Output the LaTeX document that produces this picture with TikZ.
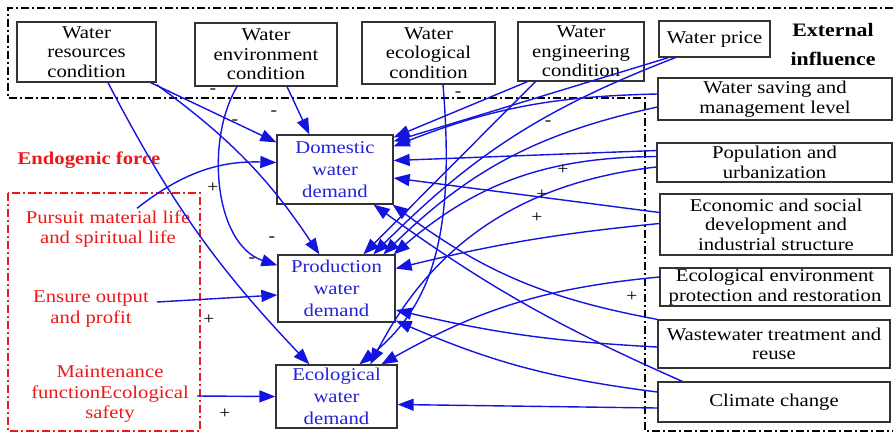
\documentclass[tikz,border=0pt]{standalone}
\usepackage{fontspec}
\setmainfont{Liberation Serif}[FakeStretch=1.15]
\usetikzlibrary{arrows.meta,calc}
\definecolor{eblue}{RGB}{20,20,225}
\definecolor{tblue}{RGB}{35,35,215}
\definecolor{ered}{RGB}{235,25,25}
\begin{document}
\begin{tikzpicture}[x=1pt,y=-1pt,
  box/.style={draw=black!80,fill=white,line width=1.3pt,inner sep=0pt,align=center,font=\fontsize{18}{19.5}\selectfont},
  dbox/.style={box,text=tblue,font=\fontsize{18}{22}\selectfont},
  redtxt/.style={text=ered,align=center,font=\fontsize{18}{20.5}\selectfont,inner sep=0pt},
  sign/.style={font=\fontsize{17}{17}\selectfont,inner sep=0pt},
  arr/.style={draw=eblue,line width=1.4pt,-{Triangle[length=16pt,width=12pt]}},
  dashdot/.style={line width=1.8pt,dash pattern=on 8pt off 3pt on 2pt off 3pt}
]
\useasboundingbox (0,0) rectangle (893,432);
% frames
\draw[dashdot] (893,8) -- (8,8) -- (8,98) -- (645,98) -- (645,431) -- (893,431);
\draw[dashdot,draw=ered] (8,193) rectangle (200,431);
% external boxes
\node[box,minimum width=139pt,minimum height=60pt] (WRC) at (86.5,52) {Water\\resources\\condition};
\node[box,minimum width=142pt,minimum height=63pt] (WEC) at (266,54.5) {Water\\environment\\condition};
\node[box,minimum width=133pt,minimum height=62pt] (WEcC) at (428.5,53) {Water\\ecological\\condition};
\node[box,minimum width=126pt,minimum height=59pt] (WEngC) at (581,51.5) {Water\\engineering\\condition};
\node[box,minimum width=111pt,minimum height=36pt] (WP) at (714.5,39) {Water price};
\node[box,minimum width=234pt,minimum height=42pt] (WSM) at (775,99) {Water saving and\\management level};
\node[box,minimum width=235pt,minimum height=39pt] (PU) at (774.5,162.5) {Population and\\urbanization};
\node[box,minimum width=232pt,minimum height=61pt] (ES) at (776,224.5) {Economic and social\\development and\\industrial structure};
\node[box,minimum width=230pt,minimum height=38pt] (EEP) at (775,287) {Ecological environment\\protection and restoration};
\node[box,minimum width=232pt,minimum height=48pt] (WTR) at (774,344) {Wastewater treatment and\\reuse};
\node[box,minimum width=232pt,minimum height=40pt] (CC) at (774,402) {Climate change};
% demand boxes
\node[dbox,minimum width=116pt,minimum height=69pt] (Dom) at (335,169.5) {Domestic\\water\\demand};
\node[dbox,minimum width=117pt,minimum height=67pt] (Prod) at (336.5,288.5) {Production\\water\\demand};
\node[dbox,minimum width=121pt,minimum height=63pt] (Eco) at (336.5,396.5) {Ecological\\water\\demand};
% titles and red texts
\node[font=\bfseries\fontsize{19}{29}\selectfont,align=center,inner sep=0pt] (ext) at (833,45) {External\\influence};
\node[font=\bfseries\fontsize{18}{20}\selectfont,text=ered,inner sep=0pt] (endo) at (89,160) {Endogenic force};
\node[redtxt] (Pur) at (108,229) {Pursuit material life\\and spiritual life};
\node[redtxt] (Ens) at (91,309) {Ensure output\\and profit};
\node[redtxt] (Mai) at (110,394) {Maintenance\\functionEcological\\safety};
% connectors
\draw[arr] ($(WRC.south)+(21.5,0)$) to[bend right=8] ($(Eco.north west)+(34,0)$);
\draw[arr] ($(WRC.south east)+(-6,0)$) -- ($(Dom.north west)+(0,8)$);
\draw[arr] ($(WRC.south east)+(0,2)$) to[bend left=10] ($(Prod.north west)+(42,0)$);
\draw[arr] ($(WEC.south)+(21,0)$) -- ($(Dom.north west)+(33,0)$);
\draw[arr] ($(WEC.south)+(-29,0)$) .. controls +(-32,54) and +(-63,-21) .. ($(Prod.north west)+(0,11)$);
\draw[arr] ($(WEcC.south)+(14.5,0)$) .. controls +(12,146) and +(75,-60) .. ($(Eco.north west)+(84,0)$);
\draw[arr] ($(WEngC.south west)+(10,0)$) -- ($(Dom.north east)+(0,3)$);
\draw[arr] ($(WEngC.south west)+(18,0)$) -- ($(Prod.north west)+(86,0)$);
\draw[arr] ($(WP.south west)+(10,0)$) -- ($(Dom.north east)+(0,7)$);
\draw[arr] ($(WP.south west)+(17,0)$) to[bend right=12] ($(Prod.north west)+(96,0)$);
\draw[arr] ($(WSM.west)+(0,-5)$) to[bend right=10] ($(Dom.north east)+(0,12)$);
\draw[arr] ($(WSM.west)+(0,8)$) to[bend right=16] ($(Prod.north west)+(106,0)$);
\draw[arr] ($(PU.west)+(0,-12)$) -- ($(Dom.east)+(0,-9)$);
\draw[arr] ($(PU.west)+(0,-6)$) to[bend right=20] ($(Prod.north east)+(-2,0)$);
\draw[arr] ($(PU.west)+(0,4.5)$) to[bend right=28] ($(Eco.north west)+(95,0)$);
\draw[arr] ($(ES.west)+(0,-12)$) -- ($(Dom.east)+(0,8.5)$);
\draw[arr] ($(ES.west)+(0,-1)$) to[bend right=4] ($(Prod.east)+(0,-20)$);
\draw[arr] ($(EEP.west)+(0,-10)$) to[bend right=12] ($(Eco.north west)+(106,0)$);
\draw[arr] (WTR.north west) to[bend left=13] ($(Dom.south east)+(-1,0)$);
\draw[arr] ($(WTR.west)+(0,3)$) to[bend left=5] ($(Prod.east)+(0,21.5)$);
\draw[arr] ($(CC.north west)+(25,0)$) to[bend left=6] ($(Dom.south east)+(-20,0)$);
\draw[arr] ($(CC.west)+(0,-10)$) to[bend left=8] ($(Prod.south east)+(0,-2)$);
\draw[arr] ($(CC.west)+(0,6)$) -- ($(Eco.east)+(0,8)$);
\draw[arr] ($(Pur.north)+(29,-2)$) to[bend left=20] ($(Dom.west)+(0,-7)$);
\draw[arr] ($(Ens.center)+(66,-7)$) -- ($(Prod.west)+(0,6.5)$);
\draw[arr] ($(Mai.center)+(87,2)$) -- ($(Eco.west)+(0,0)$);
% signs
\node[sign] (s1) at (213,91) {-};
\node[sign] (s2) at (274,113) {-};
\node[sign] (s3) at (235,122) {-};
\node[sign] (s4) at (458,94) {-};
\node[sign] (s5) at (548,123) {-};
\node[sign] (s6) at (213,188) {+};
\node[sign] (s7) at (272,239) {-};
\node[sign] (s8) at (252,260) {-};
\node[sign] (s9) at (563,170) {+};
\node[sign] (s10) at (542,195) {+};
\node[sign] (s11) at (537,218) {+};
\node[sign] (s12) at (632,297) {+};
\node[sign] (s13) at (209,320) {+};
\node[sign] (s14) at (225,414) {+};
\end{tikzpicture}
\end{document}
